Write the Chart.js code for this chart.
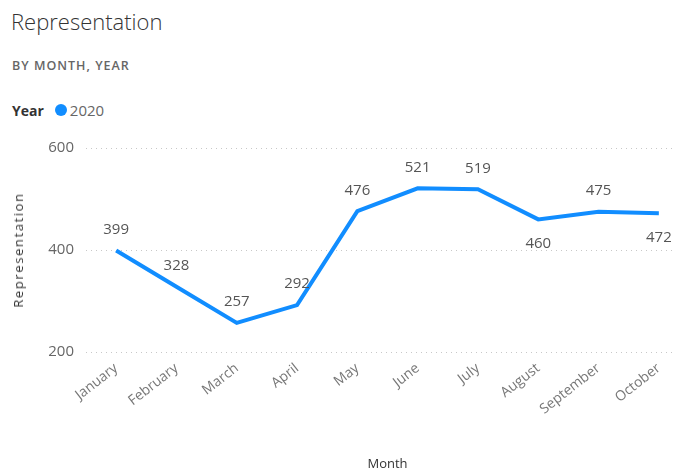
<!DOCTYPE html>
<html>
<head>
<meta charset="utf-8">
<script src="https://cdn.jsdelivr.net/npm/chart.js@4.4.1/dist/chart.umd.min.js"></script>
<style>
  html, body { margin: 0; padding: 0; overflow: hidden; background: #fff; }
  body { width: 673px; height: 472px; position: relative; font-family: "Open Sans", "Noto Sans", sans-serif; }
  #wrap { position: absolute; left: 0; top: 0; width: 700px; height: 472px; }
  .title { position: absolute; left: 11px; top: 6px; font-size: 22px; color: #333; font-weight: 300; }
  .sub { position: absolute; left: 12px; top: 57px; font-size: 12.5px; color: #666; letter-spacing: 1px; font-weight: 600; }
  .legend { position: absolute; left: 12px; top: 100px; font-size: 15px; color: #666; display: flex; align-items: center; }
  .legend b { color: #333; font-weight: 700; margin-right: 11px; font-size: 14px; }
  .legend i { display: inline-block; width: 12px; height: 12px; border-radius: 50%; background: #118DFF; margin-right: 3px; }
  .ytitle { position: absolute; left: 18px; top: 250px; transform: translate(-50%, -50%) rotate(-90deg); font-size: 13px; letter-spacing: 1.6px; color: #333; white-space: nowrap; z-index: 2; }
</style>
</head>
<body>
<div class="title">Representation</div>
<div class="sub">BY MONTH, YEAR</div>
<div class="legend"><b>Year</b><i></i>2020</div>
<div class="ytitle">Representation</div>
<div id="wrap"><canvas id="chart"></canvas></div>
<script>
const months = ['January', 'February', 'March', 'April', 'May', 'June', 'July', 'August', 'September', 'October'];
const values2020 = [399, 328, 257, 292, 476, 521, 519, 460, 475, 472];
const labelBelow = [false, false, false, false, false, false, false, true, false, true];
const yTicks = [200, 400, 600];

// valeurs au-dessus / en dessous des points
const pointLabels = {
  id: 'pointLabels',
  afterDatasetsDraw(chart) {
    const c = chart.ctx;
    const meta = chart.getDatasetMeta(0);
    c.save();
    c.font = '15px "Open Sans", sans-serif';
    c.fillStyle = '#555';
    c.textAlign = 'center';
    c.textBaseline = 'middle';
    meta.data.forEach((pt, i) => {
      const dy = labelBelow[i] ? 24 : -21;
      c.fillText(values2020[i], pt.x, pt.y + dy);
    });
    c.restore();
  }
};

new Chart(document.getElementById('chart'), {
  type: 'line',
  data: {
    labels: months,
    datasets: [{
      label: '2020',
      data: values2020,
      borderColor: '#118DFF',
      borderWidth: 4,
      pointRadius: 0,
      tension: 0,
      fill: false
    }]
  },
  options: {
    responsive: true,
    maintainAspectRatio: false,
    animation: false,
    layout: { padding: { top: 148, left: 0, right: 11, bottom: 0 } },
    plugins: { legend: { display: false }, tooltip: { enabled: false } },
    scales: {
      x: {
        offset: true,
        grid: { display: false },
        border: { display: false },
        ticks: {
          color: '#777',
          font: { family: '"Open Sans", sans-serif', size: 14 },
          minRotation: 38,
          maxRotation: 38,
          padding: 0
        },
        title: {
          display: true,
          text: 'Month',
          color: '#333',
          font: { family: '"Open Sans", sans-serif', size: 13 },
          padding: { top: 0, bottom: 0 }
        },
        afterFit: s => { s.height = 120; }
      },
      y: {
        min: 200,
        max: 600,
        afterBuildTicks: s => { s.ticks = yTicks.map(v => ({ value: v })); },
        grid: { color: '#c8c8c8', lineWidth: 1, drawTicks: false },
        border: { display: false, dash: [1, 4] },
        ticks: {
          color: '#666',
          font: { family: '"Open Sans", sans-serif', size: 15 },
          padding: 12
        },
        afterFit: s => { s.width = 86; }
      }
    }
  },
  plugins: [pointLabels]
});
</script>
</body>
</html>
